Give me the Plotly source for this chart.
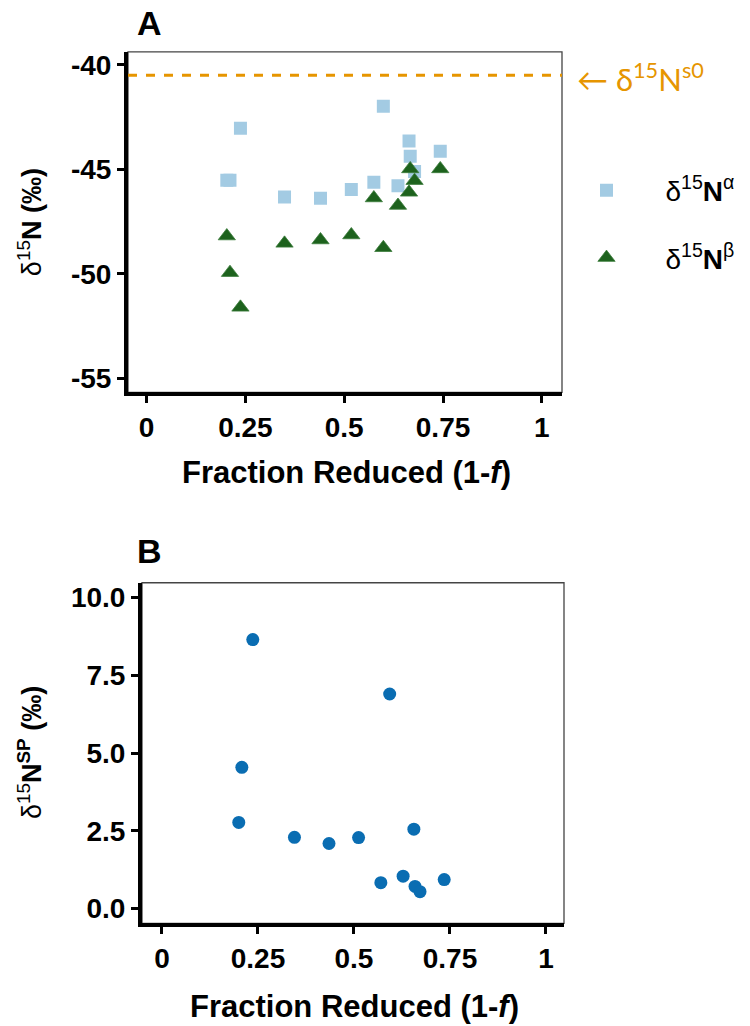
import plotly.graph_objects as go

# ---- data ----
frac_reduced = [0.203, 0.211, 0.2375, 0.349, 0.44, 0.518, 0.575, 0.599, 0.636, 0.664, 0.667, 0.678, 0.743]
d15N_alpha = [-45.52, -45.52, -43.03, -46.32, -46.38, -45.97, -45.62, -41.98, -45.78, -43.65, -44.38, -45.10, -44.14]
d15N_beta = [-48.19, -49.94, -51.60, -48.54, -48.38, -48.14, -46.37, -48.75, -46.73, -46.10, -44.98, -45.54, -44.98]
frac_reduced_B = [0.200, 0.208, 0.2365, 0.345, 0.435, 0.512, 0.570, 0.593, 0.628, 0.656, 0.659, 0.672, 0.735]
d15N_SP = [2.77, 4.54, 8.65, 2.29, 2.09, 2.28, 0.83, 6.90, 1.04, 2.55, 0.71, 0.54, 0.93]
d15N_s0 = -40.5

x_ticks = [0, 0.25, 0.5, 0.75, 1]
x_ticklabels = ["0", "0.25", "0.5", "0.75", "1"]
yA_ticks = [-40, -45, -50, -55]
yA_ticklabels = ["-40", "-45", "-50", "-55"]
yB_ticks = [0, 2.5, 5, 7.5, 10]
yB_ticklabels = ["0.0", "2.5", "5.0", "7.5", "10.0"]

COL_ALPHA = "#a3cbe3"
COL_BETA = "#1d621d"
COL_SP = "#0a6db2"
COL_ORANGE = "#e69500"

W, H = 750, 1026
FAM = "Liberation Sans, Arial, sans-serif"
TICKFONT = dict(family=FAM, size=28, color="black", weight="bold")
PAD = "\u00a0" * 5

fig = go.Figure()

fig.add_trace(go.Scatter(
    x=frac_reduced, y=d15N_alpha, mode="markers", xaxis="x", yaxis="y",
    name=PAD + "δ<sup>15</sup><b>N</b><sup>α</sup>", legendgroup="a",
    marker=dict(symbol="square", size=13, color=COL_ALPHA, line=dict(width=0)),
))
fig.add_trace(go.Scatter(
    x=frac_reduced, y=d15N_beta, mode="markers", xaxis="x", yaxis="y",
    name=PAD + "δ<sup>15</sup><b>N</b><sup>β</sup>", legendgroup="b",
    marker=dict(symbol="triangle-up", size=15, color=COL_BETA, line=dict(width=0.8, color="#3d7d3d")),
))
fig.add_trace(go.Scatter(
    x=frac_reduced_B, y=d15N_SP, mode="markers", xaxis="x2", yaxis="y2",
    showlegend=False,
    marker=dict(symbol="circle", size=13, color=COL_SP, line=dict(width=0)),
))

axis_common = dict(
    showgrid=False, zeroline=False, showline=True, linecolor="black", linewidth=4,
    ticks="outside", ticklen=7, tickwidth=3, tickcolor="black", tickfont=TICKFONT,
    mirror=False,
)

fig.update_layout(
    width=W, height=H,
    margin=dict(l=0, r=0, t=0, b=0),
    paper_bgcolor="white", plot_bgcolor="white",
    showlegend=True,
    legend=dict(
        x=0.782, y=0.840, xanchor="left", yanchor="top",
        font=dict(family=FAM, size=28, color="black"),
        itemsizing="trace", tracegroupgap=28, bgcolor="rgba(0,0,0,0)",
    ),
    xaxis=dict(domain=[128 / W, 562 / W], range=[-0.047, 1.051], anchor="y",
               tickvals=x_ticks, ticktext=x_ticklabels, **axis_common),
    yaxis=dict(domain=[1 - 392 / H, 1 - 50 / H], range=[-55.67, -39.38], anchor="x",
               tickvals=yA_ticks, ticktext=yA_ticklabels, **axis_common),
    xaxis2=dict(domain=[142 / W, 564 / W], range=[-0.052, 1.047], anchor="y2",
                tickvals=x_ticks, ticktext=x_ticklabels, **axis_common),
    yaxis2=dict(domain=[1 - 925 / H, 1 - 583 / H], range=[-0.48, 10.48], anchor="x2",
                tickvals=yB_ticks, ticktext=yB_ticklabels, **axis_common),
)

# thin frame (top/right) around each panel
for xr, yr in [("x", "y"), ("x2", "y2")]:
    fig.add_shape(type="rect", xref=f"{xr} domain", yref=f"{yr} domain",
                  x0=0, x1=1, y0=0, y1=1, line=dict(color="#444444", width=1.3), layer="below")

# dashed delta15N s0 line
fig.add_shape(type="line", xref="x domain", yref="y", x0=0, x1=1, y0=d15N_s0, y1=d15N_s0,
              line=dict(color=COL_ORANGE, width=3, dash="dash"))

TITLEFONT = dict(family=FAM, size=31, color="black")


def ann(text, px, py, font, xanchor="center", angle=0):
    return dict(text=text, x=px / W, y=1 - py / H, xref="paper", yref="paper",
                xanchor=xanchor, yanchor="middle", textangle=angle,
                showarrow=False, font=font)


annotations = [
    ann("<b>A</b>", 149, 21, dict(family=FAM, size=34, color="black")),
    ann("<b>B</b>", 149, 551, dict(family=FAM, size=34, color="black")),
    ann("<b>Fraction Reduced (1-<i>f</i>)</b>", 346, 472, TITLEFONT),
    ann("<b>Fraction Reduced (1-<i>f</i>)</b>", 354, 1008, TITLEFONT),
    ann("δ<sup>15</sup><b>N (‰)</b>", 30, 221, dict(family=FAM, size=27, color="black"), angle=-90),
    ann("δ<sup>15</sup><b>N<sup>SP</sup> (‰)</b>", 30, 754, dict(family=FAM, size=27, color="black"), angle=-90),
    ann("← δ<sup>15</sup>N<sup>s0</sup>", 575, 76, dict(family="Lato, sans-serif", size=31, color=COL_ORANGE),
        xanchor="left"),
]
fig.update_layout(annotations=annotations)

fig.write_html("out.html")
